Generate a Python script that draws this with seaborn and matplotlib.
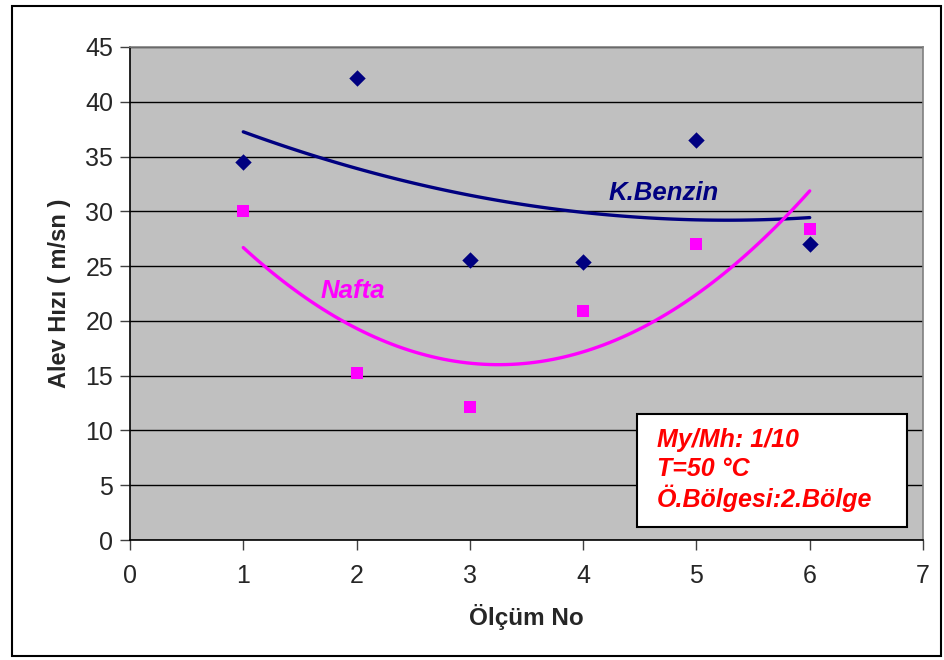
import matplotlib
matplotlib.use("Agg")
import matplotlib.pyplot as plt
import seaborn as sns
import pandas as pd
from matplotlib.patches import Rectangle

# data
olcum = [1, 2, 3, 4, 5, 6]
benzin = [34.5, 42.2, 25.6, 25.4, 36.5, 27.0]
nafta = [30.0, 15.2, 12.1, 20.9, 27.0, 28.4]
info_lines = ["My/Mh: 1/10", "T=50 \u00b0C", "\u00d6.B\u00f6lgesi:2.B\u00f6lge"]

df = pd.DataFrame({"olcum": olcum, "benzin": benzin, "nafta": nafta})

sns.set_style("white")
plt.rcParams["font.family"] = ["Liberation Sans", "DejaVu Sans"]

navy = "#000080"
magenta = "#FF00FF"

fig = plt.figure(figsize=(9.44, 6.6), dpi=100)
ax = fig.add_axes([130 / 944, 1 - 540 / 660, (923 - 130) / 944, (540 - 47) / 660])
ax.set_facecolor("#C0C0C0")

# quadratic trend lines (Excel polynomial trendline)
sns.regplot(data=df, x="olcum", y="benzin", order=2, ci=None, scatter=False,
            line_kws={"color": navy, "lw": 2.4}, ax=ax)
sns.regplot(data=df, x="olcum", y="nafta", order=2, ci=None, scatter=False,
            line_kws={"color": magenta, "lw": 2.4}, ax=ax)

sns.scatterplot(data=df, x="olcum", y="benzin", marker="D", color=navy, s=70,
                edgecolor=navy, linewidth=0, ax=ax, zorder=5)
sns.scatterplot(data=df, x="olcum", y="nafta", marker="s", color=magenta, s=75,
                edgecolor=magenta, linewidth=0, ax=ax, zorder=5)

ax.set_xlim(0, 7)
ax.set_ylim(0, 45)
ax.set_xticks(range(0, 8))
ax.set_yticks(range(0, 46, 5))
ax.yaxis.grid(True, color="black", lw=1)
ax.set_axisbelow(True)
ax.tick_params(axis="both", direction="out", length=7, width=1, color="#404040",
               labelsize=18, pad=5, left=True, bottom=True)
ax.tick_params(axis="x", pad=10)

for side in ["left", "bottom"]:
    ax.spines[side].set_color("black")
    ax.spines[side].set_linewidth(1.2)
for side in ["top", "right"]:
    ax.spines[side].set_visible(True)
    ax.spines[side].set_color("#808080")
    ax.spines[side].set_linewidth(1.2)

ax.set_xlabel("\u00d6l\u00e7\u00fcm No", fontsize=17.5, fontweight="bold", labelpad=12)
ax.set_ylabel("Alev H\u0131z\u0131 ( m/sn )", fontsize=17, fontweight="bold", labelpad=10)

ax.text(4.22, 31.0, "K.Benzin", color=navy, fontsize=18.5, fontweight="bold",
        style="italic")
ax.text(1.68, 22.1, "Nafta", color=magenta, fontsize=18.5, fontweight="bold",
        style="italic")

# info box
fig.patches.append(Rectangle((637 / 944, 1 - 527 / 660), 270 / 944, 113 / 660,
                             transform=fig.transFigure, facecolor="white",
                             edgecolor="black", lw=1.5, zorder=10))
for i, line in enumerate(info_lines):
    fig.text(657 / 944, 1 - (440 + i * 29) / 660, line, color="red",
             fontsize=18, fontweight="bold", style="italic", va="center",
             zorder=11)

# chart area border
fig.patches.append(Rectangle((12 / 944, 1 - 656 / 660), 929 / 944, 650 / 660,
                             transform=fig.transFigure, facecolor="none",
                             edgecolor="black", lw=1.5, zorder=12))

fig.savefig("out.png", dpi=100)
